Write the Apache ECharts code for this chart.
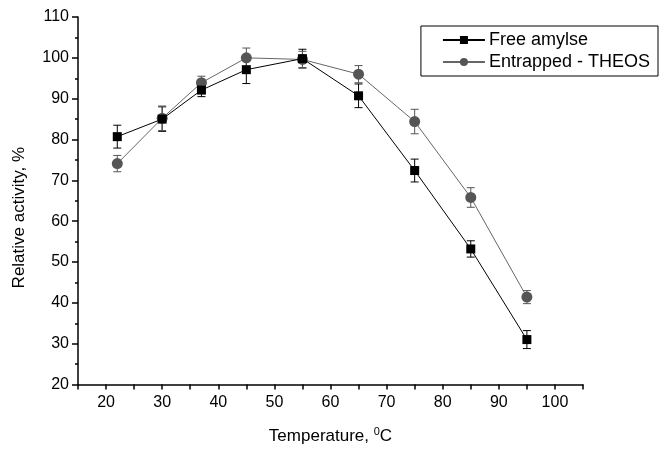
<!DOCTYPE html>
<html>
<head>
<meta charset="utf-8">
<script src="https://cdn.jsdelivr.net/npm/echarts@6/dist/echarts.min.js"></script>
<style>
  html, body { margin: 0; padding: 0; background: #fff; }
  #chart { width: 659px; height: 450px; }
</style>
</head>
<body>
<div id="chart"></div>
<script>
// temperatures, deg C
var temps = [22, 30, 37, 45, 55, 65, 75, 85, 95];
// relative activity, %
var freeVals = [80.7, 85.0, 92.1, 97.1, 99.8, 90.7, 72.4, 53.2, 31.0];
var freeErr = [2.8, 3.0, 1.6, 3.4, 2.3, 2.9, 2.8, 2.0, 2.2];
var entVals = [74.1, 85.2, 93.9, 100.0, 99.6, 96.0, 84.4, 65.8, 41.4];
var entErr = [2.0, 3.0, 1.6, 2.4, 2.0, 2.1, 3.0, 2.4, 1.6];
var xTicks = [20, 30, 40, 50, 60, 70, 80, 90, 100];
var yTicks = [20, 30, 40, 50, 60, 70, 80, 90, 100, 110];

var FONT = "Liberation Sans";

function pairs(v) {
  return temps.map(function (t, i) { return [t, v[i]]; });
}
function errData(v, e) {
  return temps.map(function (t, i) { return [t, v[i] - e[i], v[i] + e[i]]; });
}

// 误差棒
function errSeries(name, v, e, color) {
  return {
    type: "custom",
    name: name + "_err",
    data: errData(v, e),
    z: 1,
    renderItem: function (params, api) {
      var lo = api.coord([api.value(0), api.value(1)]);
      var hi = api.coord([api.value(0), api.value(2)]);
      var w = 4;
      var st = { stroke: color, lineWidth: 1 };
      return {
        type: "group",
        children: [
          { type: "line", shape: { x1: lo[0], y1: lo[1], x2: hi[0], y2: hi[1] }, style: st },
          { type: "line", shape: { x1: lo[0] - w, y1: lo[1], x2: lo[0] + w, y2: lo[1] }, style: st },
          { type: "line", shape: { x1: hi[0] - w, y1: hi[1], x2: hi[0] + w, y2: hi[1] }, style: st }
        ]
      };
    }
  };
}

var myChart = echarts.init(document.getElementById("chart"));
myChart.setOption({
  animation: false,
  textStyle: { fontFamily: FONT },
  grid: { left: 78, right: 76, top: 17, bottom: 62 },
  graphic: [
    {
      type: "text",
      left: 11,
      top: 147,
      rotation: Math.PI / 2,
      style: { text: "Relative activity, %", font: "17px " + FONT, fill: "#000" }
    }
  ],
  legend: {
    data: ["Free amylse", "Entrapped - THEOS"],
    orient: "vertical",
    right: 1,
    top: 26,
    itemWidth: 42,
    itemHeight: 10,
    itemGap: 4,
    padding: [5, 8, 5, 21],
    borderColor: "#000",
    borderWidth: 1,
    textStyle: { fontFamily: FONT, fontSize: 18, color: "#000", padding: [0, 0, 0, -1] }
  },
  xAxis: {
    type: "value",
    min: 15,
    max: 105,
    interval: 5,
    name: "Temperature, {sup|0}C",
    nameLocation: "middle",
    nameGap: 42,
    nameTextStyle: {
      fontFamily: FONT, fontSize: 17, color: "#000",
      rich: { sup: { fontSize: 11, verticalAlign: "top", padding: [0, 0, 9, 0], fontFamily: FONT } }
    },
    axisLine: { lineStyle: { color: "#000", width: 1.5 } },
    axisTick: { inside: false, length: 5, lineStyle: { color: "#000", width: 1.5 } },
    axisLabel: {
      color: "#000", fontSize: 16, fontFamily: FONT, margin: 10, showMinLabel: true, showMaxLabel: true,
      interval: 0,
      formatter: function (v) { return xTicks.indexOf(v) >= 0 ? String(v) : ""; }
    },
    splitLine: { show: false }
  },
  yAxis: {
    type: "value",
    min: 20,
    max: 110,
    interval: 10,
    axisLine: { show: true, lineStyle: { color: "#000", width: 1.5 } },
    axisTick: { show: true, length: 6, lineStyle: { color: "#000", width: 1.5 } },
    minorTick: { show: true, splitNumber: 2, length: 3, lineStyle: { color: "#000", width: 1.5 } },
    axisLabel: {
      color: "#000", fontSize: 16, fontFamily: FONT, margin: 9,
      formatter: function (v) { return yTicks.indexOf(v) >= 0 ? String(v) : ""; }
    },
    splitLine: { show: false }
  },
  series: [
    errSeries("Free amylse", freeVals, freeErr, "#000"),
    errSeries("Entrapped - THEOS", entVals, entErr, "#555"),
    {
      name: "Free amylse",
      type: "line",
      data: pairs(freeVals),
      symbol: "rect",
      symbolSize: 9,
      z: 3,
      lineStyle: { color: "#000", width: 1 },
      itemStyle: { color: "#000" }
    },
    {
      name: "Entrapped - THEOS",
      type: "line",
      data: pairs(entVals),
      symbol: "circle",
      symbolSize: 11,
      z: 2,
      lineStyle: { color: "#666", width: 1 },
      itemStyle: { color: "#555" }
    }
  ]
});
</script>
</body>
</html>
